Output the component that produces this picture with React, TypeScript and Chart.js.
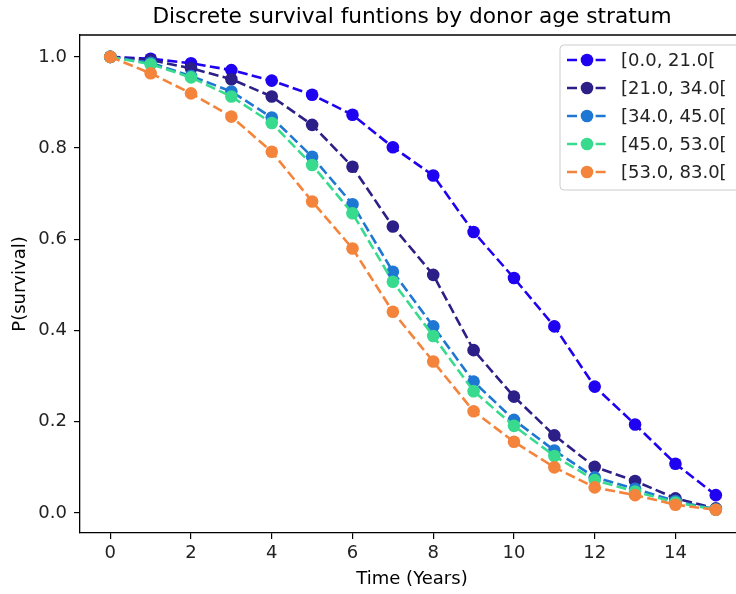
import React, { useEffect, useRef } from "react";
import { Chart, registerables } from "chart.js";

Chart.register(...registerables);

const years = [0, 1, 2, 3, 4, 5, 6, 7, 8, 9, 10, 11, 12, 13, 14, 15];
const strata = ["[0.0, 21.0[", "[21.0, 34.0[", "[34.0, 45.0[", "[45.0, 53.0[", "[53.0, 83.0["];
const s0to21 = [1.0, 0.996, 0.986, 0.971, 0.948, 0.917, 0.873, 0.802, 0.74, 0.616, 0.515, 0.409, 0.277, 0.194, 0.108, 0.039];
const s21to34 = [1.0, 0.993, 0.975, 0.951, 0.913, 0.851, 0.759, 0.628, 0.522, 0.357, 0.255, 0.17, 0.101, 0.07, 0.032, 0.01];
const s34to45 = [1.0, 0.987, 0.958, 0.924, 0.867, 0.781, 0.677, 0.529, 0.409, 0.288, 0.204, 0.137, 0.078, 0.053, 0.026, 0.008];
const s45to53 = [1.0, 0.984, 0.955, 0.913, 0.855, 0.763, 0.657, 0.507, 0.388, 0.267, 0.191, 0.125, 0.072, 0.047, 0.023, 0.007];
const s53to83 = [1.0, 0.964, 0.92, 0.869, 0.792, 0.683, 0.58, 0.441, 0.332, 0.223, 0.156, 0.1, 0.056, 0.039, 0.018, 0.007];
const seriesValues = [s0to21, s21to34, s34to45, s45to53, s53to83];
const colors = ["#1f02ef", "#2c1f88", "#1f77d4", "#38db8e", "#f4843c"];
const xTicks = [0, 2, 4, 6, 8, 10, 12, 14];
const yTicks = [0.0, 0.2, 0.4, 0.6, 0.8, 1.0];
const titleText = "Discrete survival funtions by donor age stratum";
const xLabel = "Time (Years)";
const yLabel = "P(survival)";

const FONT = "'DejaVu Sans', sans-serif";
const DASH = [10, 4.3];

const decor = {
  id: "decor",
  afterDraw(chart: any) {
    const { ctx, chartArea } = chart;
    ctx.save();
    // top spine
    ctx.strokeStyle = "#000";
    ctx.lineWidth = 1.3;
    ctx.beginPath();
    ctx.moveTo(chartArea.left, chartArea.top);
    ctx.lineTo(chartArea.right, chartArea.top);
    ctx.stroke();
    // title
    ctx.fillStyle = "#000";
    ctx.textAlign = "center";
    ctx.textBaseline = "alphabetic";
    ctx.font = `21.7px ${FONT}`;
    ctx.fillText(titleText, 412, 23);
    // x label
    ctx.font = `18px ${FONT}`;
    ctx.textBaseline = "middle";
    ctx.fillText(xLabel, 412, 579);
    // y label
    ctx.save();
    ctx.translate(20, (chartArea.top + chartArea.bottom) / 2);
    ctx.rotate(-Math.PI / 2);
    ctx.fillText(yLabel, 0, 0);
    ctx.restore();
    // legend
    const lx = 560, ly = 45, lw = 180, lh = 145;
    ctx.beginPath();
    ctx.roundRect(lx, ly, lw, lh, 4);
    ctx.fillStyle = "rgba(255,255,255,0.8)";
    ctx.fill();
    ctx.strokeStyle = "#cccccc";
    ctx.lineWidth = 1;
    ctx.stroke();
    strata.forEach((label, i) => {
      const y = 60 + i * 28;
      ctx.strokeStyle = colors[i];
      ctx.lineWidth = 2.6;
      ctx.setLineDash(DASH);
      ctx.beginPath();
      ctx.moveTo(567, y);
      ctx.lineTo(606, y);
      ctx.stroke();
      ctx.setLineDash([]);
      ctx.fillStyle = colors[i];
      ctx.beginPath();
      ctx.arc(587, y, 6.3, 0, Math.PI * 2);
      ctx.fill();
      ctx.fillStyle = "#222";
      ctx.textAlign = "left";
      ctx.textBaseline = "middle";
      ctx.font = `18px ${FONT}`;
      ctx.fillText(label, 621, y + 1);
    });
    ctx.restore();
  },
};

export default function App() {
  const ref = useRef<HTMLCanvasElement>(null);
  useEffect(() => {
    document.body.style.margin = "0";
    document.body.style.background = "#fff";
    const chart = new Chart(ref.current!, {
      type: "line",
      data: {
        datasets: seriesValues.map((vals, i) => ({
          label: strata[i],
          data: years.map((x, j) => ({ x, y: vals[j] })),
          borderColor: colors[i],
          backgroundColor: colors[i],
          borderWidth: 2.6,
          borderDash: DASH,
          pointRadius: 6.3,
          pointBorderWidth: 0,
          pointBackgroundColor: colors[i],
          tension: 0,
          fill: false,
          order: seriesValues.length - i,
        })),
      },
      options: {
        responsive: false,
        animation: false,
        layout: { autoPadding: false, padding: { top: 35, right: 0, left: 0, bottom: 0 } },
        plugins: { legend: { display: false }, tooltip: { enabled: false }, title: { display: false } },
        scales: {
          x: {
            type: "linear",
            min: -0.75,
            max: 15.5,
            afterBuildTicks: (s: any) => { s.ticks = xTicks.map((v) => ({ value: v })); },
            afterFit: (s: any) => { s.height = 61; },
            grid: { drawOnChartArea: false, drawTicks: true, tickLength: 6, color: "#000", lineWidth: 1.2 },
            border: { display: true, color: "#000", width: 1.3 },
            ticks: { color: "#222", font: { family: FONT, size: 18 }, padding: 4, maxRotation: 0, autoSkip: false, callback: (v: any) => String(v) },
          },
          y: {
            type: "linear",
            min: -0.044,
            max: 1.048,
            afterBuildTicks: (s: any) => { s.ticks = yTicks.map((v) => ({ value: v })); },
            afterFit: (s: any) => { s.width = 80; },
            grid: { drawOnChartArea: false, drawTicks: true, tickLength: 6, color: "#000", lineWidth: 1.2 },
            border: { display: true, color: "#000", width: 1.3 },
            ticks: { color: "#222", font: { family: FONT, size: 18 }, padding: 7, autoSkip: false, callback: (v: any) => Number(v).toFixed(1) },
          },
        },
      },
      plugins: [decor],
    });
    return () => chart.destroy();
  }, []);
  return (
    <div style={{ width: 736, height: 594 }}>
      <canvas ref={ref} width={736} height={594} style={{ display: "block" }} />
    </div>
  );
}
